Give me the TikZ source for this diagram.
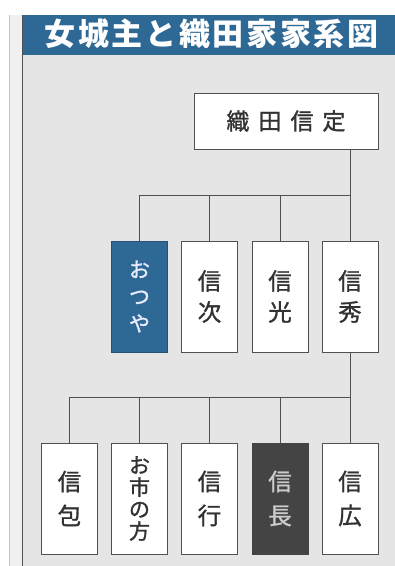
\documentclass[tikz,border=0pt]{standalone}
\usepackage{fontspec}
\newfontfamily\jp{Noto Sans CJK JP}
\newfontfamily\jpm[FakeBold=1.2]{Noto Sans CJK JP}
\definecolor{titleblue}{RGB}{46,104,148}
\definecolor{bodybg}{RGB}{229,229,229}
\definecolor{stripbg}{RGB}{240,240,240}
\definecolor{linegray}{RGB}{80,80,80}
\definecolor{nobunaga}{RGB}{68,68,68}
\definecolor{txt}{RGB}{50,50,50}
\tikzset{
  person/.style={draw=linegray, line width=0.9pt, fill=white, minimum width=56pt, inner sep=0pt, text=txt, align=center},
  rowone/.style={person, minimum height=111pt, font=\jpm\fontsize{23.5}{31}\selectfont},
  rowtwo/.style={person, minimum height=111pt, font=\jpm\fontsize{23.5}{34}\selectfont},
  link/.style={draw=linegray, line width=0.8pt},
}
\begin{document}
\begin{tikzpicture}[x=1pt,y=-1pt]
\useasboundingbox (0,0) rectangle (395,566);
\fill[white] (0,0) rectangle (395,566);
% left page strip
\fill[stripbg] (9,15) rectangle (22,566);
\draw[gray!45, line width=0.8pt] (9,15) -- (9,566);
% body and title band
\fill[bodybg] (22,55) rectangle (395,566);
\fill[titleblue] (22,15) rectangle (395,55);
\draw[linegray, line width=1pt] (22,15) -- (22,566);
\node[text=white, font=\jp\bfseries\fontsize{31}{31}\selectfont, inner sep=0pt] (title) at (211.5,34)
  {女\kern2.7pt 城\kern2.7pt 主\kern2.7pt と\kern2.7pt 織\kern2.7pt 田\kern2.7pt 家\kern2.7pt 家\kern2.7pt 系\kern2.7pt 図};
% generation 0
\node[person, minimum width=184pt, minimum height=56pt, font=\jpm\fontsize{23}{23}\selectfont] (sada) at (286,121)
  {織\hspace{9pt}田\hspace{9pt}信\hspace{9pt}定};
% generation 1
\node[rowone, fill=titleblue, draw=titleblue!80!black, text=white!92!blue, font=\jpm\fontsize{21}{27}\selectfont] (otsuya) at (139.5,296.5) {お\\つ\\や};
\node[rowone] (tsugu) at (209.5,296.5) {信\\次};
\node[rowone] (mitsu) at (280,296.5) {信\\光};
\node[rowone] (hide) at (350,296.5) {信\\秀};
% generation 2
\node[rowtwo] (kane) at (69.5,498.5) {信\\包};
\node[rowtwo, font=\jpm\fontsize{21}{22}\selectfont] (ichi) at (139.5,498.5) {お\\市\\の\\方};
\node[rowtwo] (yuki) at (209.5,498.5) {信\\行};
\node[rowtwo, fill=nobunaga, draw=nobunaga, text=white!80!black] (naga) at (280,498.5) {信\\長};
\node[rowtwo] (hiro) at (350,498.5) {信\\広};
% connectors
\coordinate (j1) at (350,195);
\coordinate (j2) at (350,397);
\draw[link] (hide.north |- sada.south) -- (hide.north);
\draw[link] (j1) -| (otsuya.north);
\draw[link] (j1) -| (tsugu.north);
\draw[link] (j1) -| (mitsu.north);
\draw[link] (hide.south) -- (hiro.north);
\draw[link] (j2) -| (kane.north);
\draw[link] (j2) -| (ichi.north);
\draw[link] (j2) -| (yuki.north);
\draw[link] (j2) -| (naga.north);
\end{tikzpicture}
\end{document}
